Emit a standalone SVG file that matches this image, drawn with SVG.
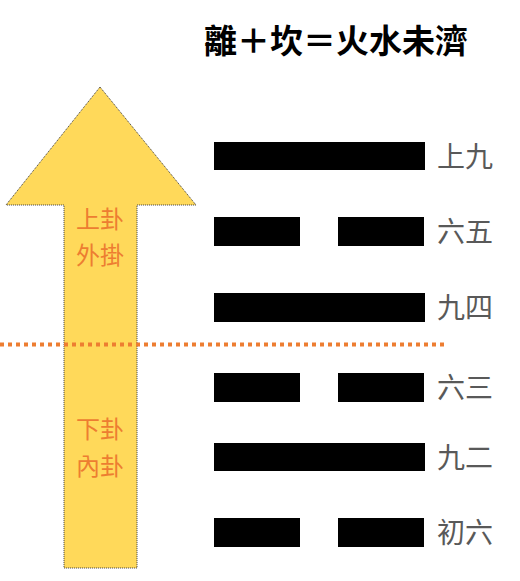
<svg xmlns="http://www.w3.org/2000/svg" width="520" height="581" viewBox="0 0 520 581">
<style>
.title{font-family:"Noto Sans CJK TC","Noto Sans CJK SC",sans-serif;font-weight:bold;font-size:33px;fill:#000}
.lbl{font-family:"Noto Sans CJK TC","Noto Sans CJK SC",sans-serif;font-size:28px;fill:#595959}
.gua{font-family:"Noto Sans CJK TC","Noto Sans CJK SC",sans-serif;font-size:24px;fill:#ED7D31;text-anchor:middle}
.bar{fill:#000}
</style>
<rect width="520" height="581" fill="#fff"/>
<text class="title" x="336" y="53" text-anchor="middle">離＋坎＝火水未濟</text>
<g id="arrow">
<polygon points="100,87 196,205 137,205 137,568 64,568 64,205 6,205" fill="#FFD95A" stroke="#3a3a3a" stroke-width="1" stroke-dasharray="1 1"/>
<text class="gua" x="100" y="228">上卦</text>
<text class="gua" x="100" y="264">外掛</text>
<text class="gua" x="100" y="438">下卦</text>
<text class="gua" x="100" y="475">內卦</text>
</g>
<g id="divider">
<line x1="0" y1="344.5" x2="448" y2="344.5" stroke="#ED7D31" stroke-width="4" stroke-dasharray="4 4"/>
</g>
<g id="line6">
<rect class="bar" x="214" y="142" width="211" height="28"/>
<text class="lbl" x="437" y="166.5">上九</text>
</g>
<g id="line5">
<rect class="bar" x="214" y="217" width="86" height="29"/>
<rect class="bar" x="338" y="217" width="86" height="29"/>
<text class="lbl" x="437" y="242">六五</text>
</g>
<g id="line4">
<rect class="bar" x="214" y="293" width="211" height="29"/>
<text class="lbl" x="437" y="318">九四</text>
</g>
<g id="line3">
<rect class="bar" x="214" y="373" width="86" height="29"/>
<rect class="bar" x="338" y="373" width="86" height="29"/>
<text class="lbl" x="437" y="398">六三</text>
</g>
<g id="line2">
<rect class="bar" x="214" y="443" width="211" height="28"/>
<text class="lbl" x="437" y="467.5">九二</text>
</g>
<g id="line1">
<rect class="bar" x="214" y="518" width="86" height="29"/>
<rect class="bar" x="338" y="518" width="86" height="29"/>
<text class="lbl" x="437" y="543">初六</text>
</g>
</svg>
